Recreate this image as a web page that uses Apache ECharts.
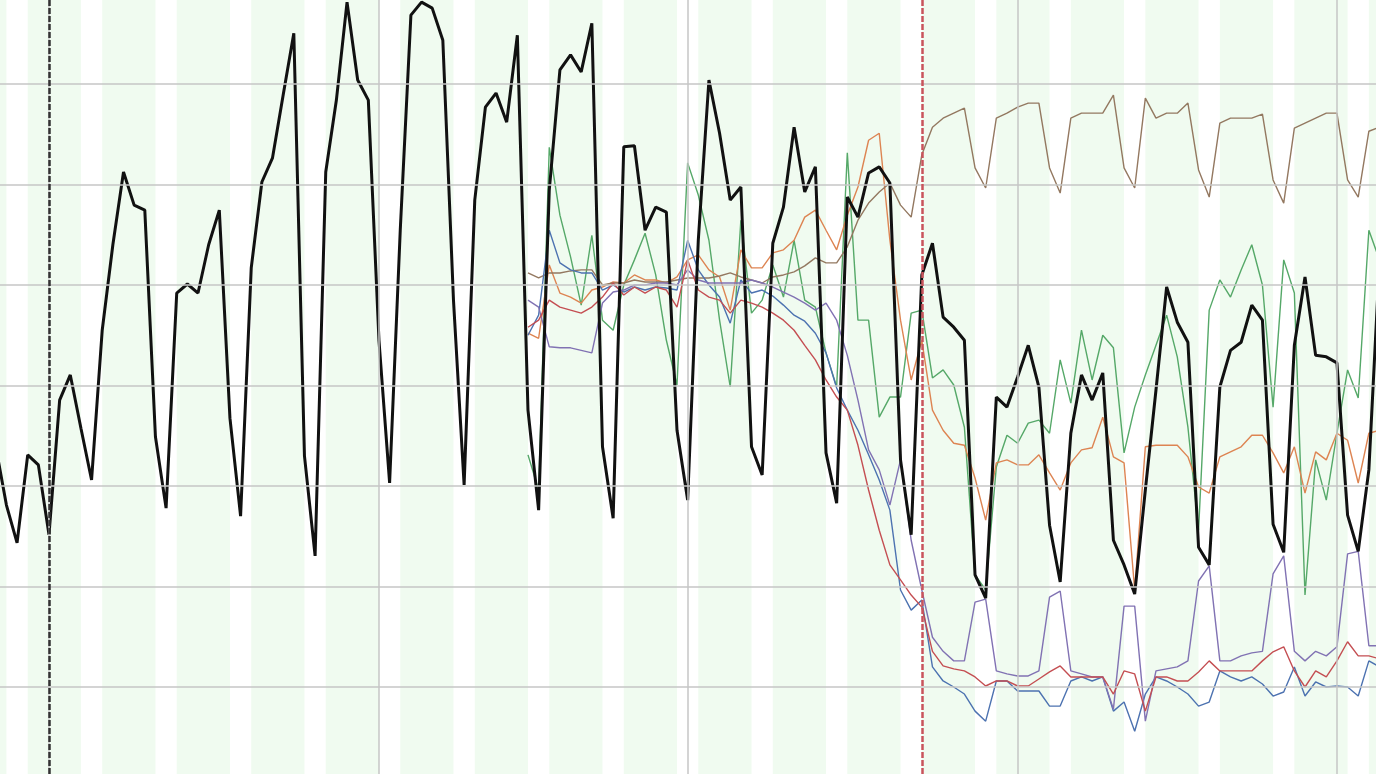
<!DOCTYPE html>
<html>
<head>
<meta charset="utf-8">
<script src="https://cdn.jsdelivr.net/npm/echarts@6/dist/echarts.min.js"></script>
<style>
  html, body { margin: 0; padding: 0; background: #ffffff; overflow: hidden; }
  #chart { position: absolute; left: 0; top: 0; width: 1376px; height: 774px; }
</style>
</head>
<body>
<div id="chart"></div>
<script>
// ---------------- DATA ----------------
// Day 0 = 2020-01-01; one value per day.
const originDate = '2020-01-01';
const overallStartDay = -5;     // first day of the black series
const modeStartDay = 45;        // first day of the coloured series (2020-02-15)

const overall = [
  67.8, 56.2, 48.7, 66.2, 64.2,
  50.3, 77.1, 82.1, 71.5, 61.2, 91.0, 108.0, 122.5, 115.9, 114.9,
  69.8, 55.6, 98.4, 100.2, 98.4, 108.0, 114.9, 73.5, 54.0, 103.4,
  120.5, 125.3, 137.8, 150.1, 66.0, 46.1, 122.5, 136.8, 156.3, 140.8,
  136.8, 89.0, 60.6, 110.9, 153.7, 156.3, 155.1, 148.7, 97.0, 60.2,
  116.9, 135.4, 138.2, 132.4, 149.7, 75.1, 55.2, 118.9, 142.8, 145.8,
  142.4, 152.1, 67.8, 53.6, 127.5, 127.7, 110.9, 115.5, 114.5, 71.1,
  57.2, 108.9, 140.8, 130.2, 116.9, 119.5, 67.8, 62.2, 108.3, 115.5,
  131.4, 118.5, 123.5, 66.6, 56.6, 117.5, 113.5, 122.3, 123.5, 120.3,
  65.2, 50.3, 102.0, 108.3, 93.6, 91.6, 89.0, 42.3, 37.7, 77.7,
  75.7, 81.7, 88.0, 79.7, 52.2, 40.9, 70.5, 82.1, 77.1, 82.5,
  49.2, 44.3, 38.5, 59.2, 79.1, 99.6, 92.6, 88.6, 47.8, 44.3,
  79.7, 87.0, 88.6, 96.0, 93.0, 52.4, 46.8, 88.0, 101.6, 86.0,
  85.7, 84.5, 54.2, 47.0, 63.2, 105.0
];

const greenSeries = [
  66.2, 59.2, 127.4, 113.9, 105.6, 96.0, 109.9, 93.0, 91.0, 100.0,
  105.0, 110.3, 102.0, 89.0, 80.1, 124.3, 117.9, 108.9, 93.0, 79.7,
  112.9, 94.4, 97.0, 104.0, 97.6, 108.9, 97.0, 95.6, 86.5, 79.7,
  126.3, 93.0, 93.0, 73.7, 77.7, 77.7, 94.4, 95.0, 81.5, 83.1,
  80.1, 71.7, 42.3, 39.3, 63.8, 70.1, 68.5, 72.5, 73.1, 70.5,
  85.1, 76.5, 91.0, 81.1, 90.0, 87.5, 66.6, 75.7, 82.1, 88.0,
  94.0, 85.7, 71.7, 51.2, 95.0, 101.0, 97.6, 103.0, 108.0, 100.0,
  75.7, 105.0, 98.4, 38.3, 65.2, 57.2, 70.5, 83.1, 77.5, 110.9,
  105.0
];

const orangeSeries = [
  90.4, 89.4, 104.0, 98.4, 97.6, 96.4, 99.0, 99.6, 100.6, 100.4,
  102.0, 101.0, 101.0, 100.4, 101.6, 105.0, 106.0, 103.0, 101.6, 95.0,
  107.0, 103.4, 103.4, 106.4, 107.0, 108.9, 113.5, 114.9, 110.9, 107.0,
  113.9, 119.5, 128.8, 130.2, 108.9, 93.0, 81.1, 89.0, 75.1, 71.1,
  68.5, 68.1, 61.6, 53.2, 64.6, 65.2, 64.2, 64.2, 66.2, 62.6,
  59.2, 64.6, 67.2, 67.6, 73.7, 65.8, 64.6, 39.3, 67.8, 68.1,
  68.1, 68.1, 65.8, 59.8, 58.6, 65.8, 66.8, 67.8, 70.1, 70.1,
  66.6, 62.6, 67.8, 58.6, 66.8, 65.2, 70.5, 69.1, 60.6, 70.5,
  71.1
];

const brownSeries = [
  102.4, 101.4, 102.4, 102.4, 102.8, 103.0, 103.0, 100.0, 100.4, 100.4,
  101.0, 100.6, 100.6, 100.6, 101.0, 101.4, 101.4, 101.4, 101.8, 102.4,
  101.6, 101.0, 100.4, 101.6, 102.0, 102.6, 103.8, 105.4, 104.4, 104.4,
  107.6, 112.9, 116.3, 118.5, 120.3, 115.9, 113.5, 125.9, 131.4, 133.2,
  134.2, 135.2, 123.3, 119.3, 133.2, 134.2, 135.4, 136.2, 136.2, 123.3,
  118.3, 133.2, 134.2, 134.2, 134.2, 137.8, 123.3, 119.3, 137.2, 133.2,
  134.2, 134.2, 136.2, 122.9, 117.5, 132.2, 133.2, 133.2, 133.2, 134.0,
  120.9, 116.3, 131.2, 132.2, 133.2, 134.2, 134.2, 120.9, 117.5, 130.6,
  131.4
];

const blueSeries = [
  90.0, 94.0, 110.9, 104.4, 103.0, 102.4, 102.4, 99.0, 100.0, 98.6,
  99.6, 99.0, 99.6, 99.4, 99.0, 108.9, 103.0, 100.0, 97.6, 92.4,
  101.0, 98.4, 99.0, 97.8, 96.0, 94.0, 92.8, 90.4, 86.5, 79.5,
  75.1, 71.1, 66.2, 61.2, 55.2, 39.3, 35.3, 37.3, 24.0, 21.2,
  20.0, 18.6, 15.2, 13.2, 21.2, 21.2, 19.2, 19.2, 19.2, 16.2,
  16.2, 21.2, 22.0, 21.2, 22.0, 15.2, 17.0, 11.2, 18.6, 22.0,
  21.2, 20.0, 18.6, 16.2, 17.0, 23.2, 22.0, 21.2, 22.0, 20.6,
  18.2, 19.0, 24.0, 18.2, 21.0, 20.0, 20.2, 20.0, 18.2, 25.2,
  24.0
];

const purpleSeries = [
  97.0, 95.6, 87.7, 87.5, 87.5, 87.0, 86.5, 96.4, 98.6, 99.0,
  100.0, 100.0, 100.4, 100.4, 100.0, 103.0, 101.0, 100.4, 100.4, 100.4,
  100.4, 101.0, 100.4, 99.6, 98.6, 97.6, 96.4, 95.0, 96.4, 93.0,
  86.0, 77.1, 67.2, 63.2, 56.2, 65.2, 49.2, 39.3, 29.9, 27.1,
  25.2, 25.2, 36.9, 37.5, 23.2, 22.6, 22.2, 22.2, 23.2, 37.9,
  39.1, 23.2, 22.6, 22.0, 22.0, 15.6, 36.1, 36.1, 13.2, 23.2,
  23.6, 24.0, 25.2, 41.1, 44.1, 25.2, 25.2, 26.2, 26.8, 27.1,
  42.5, 46.1, 27.1, 25.2, 27.1, 26.2, 28.0, 46.5, 47.0, 28.2,
  28.2
];

const redSeries = [
  91.6, 93.0, 97.0, 95.6, 95.0, 94.4, 95.6, 97.6, 100.4, 98.0,
  99.6, 98.4, 99.6, 99.0, 95.6, 105.0, 99.0, 97.6, 97.0, 94.4,
  97.0, 96.4, 95.6, 94.4, 93.0, 91.0, 88.0, 85.1, 81.1, 77.7,
  75.1, 68.1, 59.2, 51.2, 44.3, 41.3, 38.3, 35.9, 27.1, 24.2,
  23.6, 23.2, 22.0, 20.2, 21.2, 21.2, 20.2, 20.2, 21.6, 23.0,
  24.2, 22.0, 22.0, 22.0, 22.0, 18.6, 23.2, 22.6, 15.2, 22.0,
  22.0, 21.2, 21.2, 23.0, 25.2, 23.2, 23.2, 23.2, 23.2, 25.2,
  27.0, 28.0, 23.2, 20.0, 23.2, 22.0, 25.2, 29.0, 26.2, 26.2,
  25.6
];

const monthStarts = ['2020-01-01', '2020-02-01', '2020-03-01', '2020-04-01', '2020-05-01'];
const yGridValues = [20, 40, 60, 80, 100, 120, 140];
const startMarkerDate = '2020-01-01';
const lockdownDate = '2020-03-23';

// ---------------- HELPERS ----------------
function dayIndex(dateStr) {
  const p = dateStr.split('-').map(Number);
  const o = originDate.split('-').map(Number);
  return Math.round((Date.UTC(p[0], p[1] - 1, p[2]) - Date.UTC(o[0], o[1] - 1, o[2])) / 86400000);
}
function toPoints(arr, start) {
  return arr.map((v, i) => [start + i, v]);
}
// weekday (Mon 00:00 -> Sat 00:00) shaded bands
const firstMonday = dayIndex('2019-12-23');
const bands = [];
for (let m = firstMonday; m <= 130; m += 7) {
  bands.push([{ xAxis: m }, { xAxis: m + 5 }]);
}

const chart = echarts.init(document.getElementById('chart'), null, { renderer: 'canvas' });

const thin = 1.4;
const option = {
  animation: false,
  backgroundColor: '#ffffff',
  grid: { left: 0, right: 0, top: 0, bottom: 0, containLabel: false },
  xAxis: {
    type: 'value', min: -4.6035, max: 124.67, show: false,
    splitLine: { show: false }
  },
  yAxis: {
    type: 'value', min: 2.687, max: 156.716, show: false,
    splitLine: { show: false }
  },
  series: [
    {
      type: 'line', data: [], silent: true, z: 0,
      markArea: {
        silent: true,
        itemStyle: { color: '#f0fbf0' },
        data: bands
      }
    },
    {
      type: 'line', data: [], silent: true, z: 1,
      markLine: {
        silent: true, symbol: ['none', 'none'],
        label: { show: false },
        lineStyle: { color: '#c6c6c6', width: 1.5, type: 'solid' },
        data: yGridValues.map(v => ({ yAxis: v }))
          .concat(monthStarts.map(d => ({ xAxis: dayIndex(d) })))
      }
    },
    {
      type: 'line', data: [], silent: true, z: 1,
      markLine: {
        silent: true, symbol: ['none', 'none'],
        label: { show: false },
        data: [
          { xAxis: dayIndex(startMarkerDate), lineStyle: { color: '#333333', width: 2.5, type: [6, 2] } },
          { xAxis: dayIndex(lockdownDate), lineStyle: { color: '#c9545c', width: 2.5, type: [6, 2] } }
        ]
      }
    },
    { type: 'line', name: 'green', data: toPoints(greenSeries, modeStartDay), showSymbol: false, z: 2,
      lineStyle: { color: '#55a868', width: thin } },
    { type: 'line', name: 'orange', data: toPoints(orangeSeries, modeStartDay), showSymbol: false, z: 2,
      lineStyle: { color: '#dd8452', width: thin } },
    { type: 'line', name: 'brown', data: toPoints(brownSeries, modeStartDay), showSymbol: false, z: 2,
      lineStyle: { color: '#937860', width: thin } },
    { type: 'line', name: 'blue', data: toPoints(blueSeries, modeStartDay), showSymbol: false, z: 2,
      lineStyle: { color: '#4c72b0', width: thin } },
    { type: 'line', name: 'purple', data: toPoints(purpleSeries, modeStartDay), showSymbol: false, z: 2,
      lineStyle: { color: '#8172b3', width: thin } },
    { type: 'line', name: 'red', data: toPoints(redSeries, modeStartDay), showSymbol: false, z: 2,
      lineStyle: { color: '#c44e52', width: thin } },
    { type: 'line', name: 'overall', data: toPoints(overall, overallStartDay), showSymbol: false, z: 3,
      lineStyle: { color: '#111111', width: 3 } }
  ]
};
chart.setOption(option);
</script>
</body>
</html>
